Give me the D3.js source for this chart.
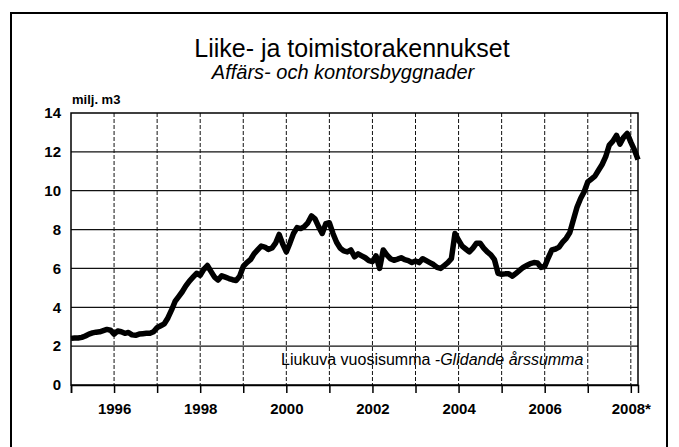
<!DOCTYPE html>
<html lang="fi">
<head>
<meta charset="utf-8">
<title>Liike- ja toimistorakennukset</title>
<script src="https://d3js.org/d3.v7.min.js"></script>
<style>
  body { margin: 0; background: #fff; }
  svg { display: block; font-family: "Liberation Sans", Arial, sans-serif; }
  .grid-h line { stroke: #111; stroke-width: 1.2; }
  .grid-v line { stroke: #111; stroke-width: 1; stroke-dasharray: 4,2; }
  .tick-lab { font-size: 15px; font-weight: bold; fill: #000; }
</style>
</head>
<body>
<script>
// monthly moving annual sum, Jan 1995 .. Mar 2008 (milj. m3)
const v1995 = [2.40, 2.42, 2.42, 2.45, 2.52, 2.62, 2.68, 2.72, 2.74, 2.80, 2.86, 2.82];
const v1996 = [2.62, 2.78, 2.74, 2.66, 2.70, 2.58, 2.56, 2.62, 2.64, 2.66, 2.66, 2.74];
const v1997 = [2.95, 3.05, 3.15, 3.45, 3.85, 4.30, 4.55, 4.80, 5.10, 5.35, 5.55, 5.75];
const v1998 = [5.65, 5.95, 6.15, 5.85, 5.55, 5.40, 5.62, 5.55, 5.48, 5.42, 5.38, 5.60];
const v1999 = [6.10, 6.30, 6.45, 6.75, 6.95, 7.15, 7.10, 6.98, 7.05, 7.30, 7.75, 7.25];
const v2000 = [6.85, 7.30, 7.80, 8.10, 8.05, 8.15, 8.35, 8.70, 8.55, 8.15, 7.80, 8.30];
const v2001 = [8.35, 7.80, 7.35, 7.05, 6.90, 6.85, 6.95, 6.60, 6.75, 6.65, 6.55, 6.40];
const v2002 = [6.35, 6.65, 6.00, 6.95, 6.70, 6.50, 6.42, 6.48, 6.55, 6.45, 6.40, 6.30];
const v2003 = [6.38, 6.30, 6.50, 6.40, 6.30, 6.20, 6.05, 6.00, 6.15, 6.30, 6.50, 7.80];
const v2004 = [7.45, 7.15, 7.00, 6.85, 7.05, 7.30, 7.30, 7.05, 6.85, 6.70, 6.45, 5.75];
const v2005 = [5.70, 5.72, 5.72, 5.60, 5.75, 5.90, 6.05, 6.15, 6.25, 6.30, 6.28, 6.05];
const v2006 = [6.10, 6.55, 6.95, 7.00, 7.10, 7.35, 7.55, 7.85, 8.50, 9.15, 9.60, 9.95];
const v2007 = [10.45, 10.60, 10.75, 11.05, 11.35, 11.75, 12.35, 12.55, 12.85, 12.40, 12.75, 12.95];
const v2008 = [12.50, 12.10, 11.60];

const yTicks = [0, 2, 4, 6, 8, 10, 12, 14];
const yearLines = [1996, 1997, 1998, 1999, 2000, 2001, 2002, 2003, 2004, 2005, 2006, 2007, 2008];
const yearLabels = [1996, 1998, 2000, 2002, 2004, 2006, 2008];

const values = [].concat(v1995, v1996, v1997, v1998, v1999, v2000, v2001,
  v2002, v2003, v2004, v2005, v2006, v2007, v2008);
const data = values.map((v, i) => ({ t: 1995 + i / 12, v: v }));

const W = 679, H = 447;
const svg = d3.select("body").append("svg").attr("width", W).attr("height", H);

// outer frame (continues below the picture)
svg.append("rect")
  .attr("x", 11).attr("y", 13).attr("width", 656).attr("height", 460)
  .attr("fill", "none").attr("stroke", "#000").attr("stroke-width", 2);

svg.append("text").attr("x", 352).attr("y", 57)
  .attr("text-anchor", "middle").style("font-size", "25px")
  .text("Liike- ja toimistorakennukset");
svg.append("text").attr("x", 343).attr("y", 79)
  .attr("text-anchor", "middle").style("font-size", "20px").style("font-style", "italic")
  .text("Affärs- och kontorsbyggnader");
svg.append("text").attr("x", 72).attr("y", 104)
  .style("font-size", "13px").style("font-weight", "bold")
  .text("milj. m3");

const x = d3.scaleLinear().domain([1995, 2008 + 2 / 12]).range([71, 638]);
const y = d3.scaleLinear().domain([0, 14]).range([385, 113]);

// horizontal grid
svg.append("g").attr("class", "grid-h")
  .selectAll("line").data(yTicks.filter(d => d > 0 && d < 14)).join("line")
  .attr("x1", x.range()[0]).attr("x2", x.range()[1])
  .attr("y1", d => y(d)).attr("y2", d => y(d));

// vertical grid (dashed)
svg.append("g").attr("class", "grid-v")
  .selectAll("line").data(yearLines).join("line")
  .attr("x1", d => x(d)).attr("x2", d => x(d))
  .attr("y1", y(14)).attr("y2", y(0));

// plot border
svg.append("rect")
  .attr("x", x.range()[0]).attr("y", y(14))
  .attr("width", x.range()[1] - x.range()[0]).attr("height", y(0) - y(14))
  .attr("fill", "none").attr("stroke", "#000").attr("stroke-width", 1.5);

// y axis labels
const yAxis = d3.axisLeft(y).tickValues(yTicks).tickSize(0).tickPadding(10);
svg.append("g").attr("transform", `translate(${x.range()[0]},0)`).call(yAxis)
  .call(g => g.select(".domain").remove())
  .call(g => g.selectAll("text").attr("class", "tick-lab").attr("font-family", null).attr("font-size", null));

// x axis ticks + labels
const xAxis = d3.axisBottom(x).tickValues([1995].concat(yearLines)).tickSize(8)
  .tickFormat(d => yearLabels.includes(d) ? (d === 2008 ? "2008*" : String(d)) : "");
svg.append("g").attr("transform", `translate(0,${y(0)})`).call(xAxis)
  .call(g => g.select(".domain").attr("stroke-width", 1.5))
  .call(g => g.selectAll(".tick line").attr("stroke", "#000").attr("stroke-width", 1.5))
  .call(g => g.selectAll("text").attr("class", "tick-lab").attr("font-family", null)
    .attr("font-size", null).attr("dy", "1.2em"));

// series
const line = d3.line().x(d => x(d.t)).y(d => y(d.v));
svg.append("path").datum(data)
  .attr("d", line)
  .attr("fill", "none").attr("stroke", "#000")
  .attr("stroke-width", 5.5).attr("stroke-linejoin", "round");

// annotation
const ann = svg.append("text").attr("x", 281).attr("y", 365).style("font-size", "16px");
ann.append("tspan").text("Liukuva vuosisumma ");
ann.append("tspan").style("font-style", "italic").text("-Glidande årssumma");
</script>
</body>
</html>
